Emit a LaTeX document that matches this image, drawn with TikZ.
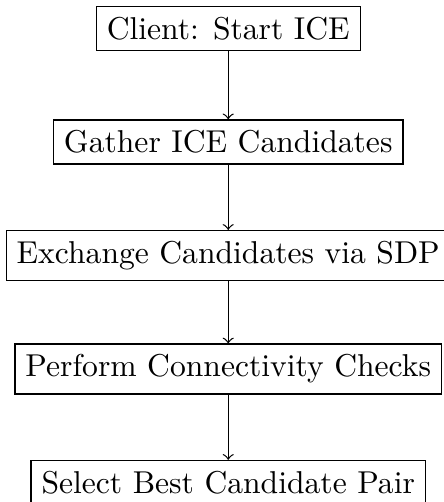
\documentclass[tikz,border=0pt]{standalone}
\usepackage{tikz}
\usetikzlibrary{positioning}

\begin{document}
\begin{tikzpicture}[
    stepbox/.style={draw, rectangle}
]
\useasboundingbox (-72.2pt,9pt) rectangle (68pt,-149.8pt);

% ICE steps, one under the other
\node[stepbox] (start) at (0,0) {Client: Start ICE};
\node[stepbox] (gather) at (0,-1.262) {Gather ICE Candidates};
\node[stepbox] (exchange) at (0,-2.524) {Exchange Candidates via SDP};
\node[stepbox] (checks) at (0,-3.786) {Perform Connectivity Checks};
\node[stepbox] (select) at (0,-5.048) {Select Best Candidate Pair};

% Arrows between steps
\draw[->] (start) -- (gather);
\draw[->] (gather) -- (exchange);
\draw[->] (exchange) -- (checks);
\draw[->] (checks) -- (select);

\end{tikzpicture}
\end{document}
